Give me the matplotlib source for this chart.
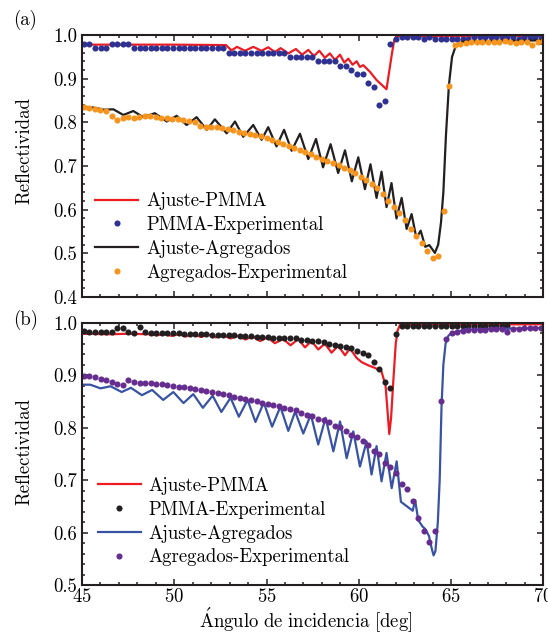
import numpy as np
import matplotlib
matplotlib.use("Agg")
import matplotlib.pyplot as plt
from matplotlib.ticker import MultipleLocator, FormatStrFormatter

FS = 13.5
plt.rcParams.update({
    "font.family": "serif",
    "font.serif": ["cmr10"],
    "mathtext.fontset": "cm",
    "axes.formatter.use_mathtext": True,
    "font.size": FS,
})

# ---------------- measurement grids (incidence angle, deg) ----------------
ANGLE_START = 45.1
ANGLE_STEP = 0.302        # scan step of the PMMA runs and of panel (b)
ANGLE_STEP_AGG_A = 0.300  # scan step of the aggregate run in panel (a)
N_POINTS = 83
N_POINTS_AGG_A = 84

# ---------------- panel (a) ----------------
pmma_exp_a = [0.980, 0.980, 0.970, 0.970, 0.970, 0.980, 0.980, 0.980, 0.980, 0.970,
              0.970, 0.970, 0.970, 0.970, 0.970, 0.970, 0.970, 0.970, 0.970, 0.970,
              0.970, 0.970, 0.970, 0.970, 0.970, 0.970, 0.960, 0.960, 0.960, 0.960,
              0.960, 0.960, 0.960, 0.960, 0.960, 0.960, 0.960, 0.950, 0.950, 0.950,
              0.950, 0.950, 0.940, 0.940, 0.940, 0.940, 0.930, 0.930, 0.920, 0.910,
              0.910, 0.890, 0.880, 0.840, 0.850, 0.980, 0.990, 0.996, 0.996, 0.996,
              0.996, 0.990, 0.996, 0.990, 0.990, 0.990, 0.990, 0.990, 0.990, 0.990,
              0.996, 0.996, 0.996, 0.996, 0.996, 0.996, 0.996, 0.996, 0.990, 0.996,
              0.996, 0.996, 0.996]

agg_exp_a = [0.835, 0.833, 0.831, 0.829, 0.827, 0.814, 0.805, 0.811, 0.812, 0.811,
             0.813, 0.815, 0.815, 0.813, 0.811, 0.809, 0.808, 0.807, 0.805, 0.803,
             0.800, 0.791, 0.789, 0.790, 0.789, 0.786, 0.784, 0.783, 0.779, 0.776,
             0.773, 0.771, 0.768, 0.765, 0.760, 0.756, 0.751, 0.746, 0.741, 0.737,
             0.732, 0.727, 0.721, 0.717, 0.712, 0.706, 0.702, 0.696, 0.690, 0.684,
             0.675, 0.667, 0.660, 0.649, 0.636, 0.621, 0.606, 0.592, 0.576, 0.556,
             0.539, 0.523, 0.506, 0.490, 0.495, 0.597, 0.883, 0.977, 0.980, 0.982,
             0.983, 0.984, 0.985, 0.985, 0.985, 0.985, 0.986, 0.985, 0.981, 0.984,
             0.985, 0.977, 0.985, 0.987]

fit_pmma_a_x = [45.0, 50.0, 52.8, 53.1, 53.4, 53.83, 54.28, 54.73, 55.09, 55.45,
                55.76, 56.18, 56.59, 56.93, 57.26, 57.57, 57.86, 58.16, 58.43, 58.7,
                58.98, 59.21, 59.43, 59.66, 59.88, 60.06, 60.24, 60.6, 60.96, 61.24,
                61.5, 61.78, 61.92, 62.05, 70.0]
fit_pmma_a_y = [0.978, 0.978, 0.977, 0.965, 0.973, 0.964, 0.973, 0.964, 0.972, 0.961,
                0.970, 0.958, 0.968, 0.955, 0.966, 0.952, 0.964, 0.948, 0.958, 0.943,
                0.955, 0.937, 0.946, 0.932, 0.940, 0.927, 0.931, 0.916, 0.897, 0.886,
                0.876, 0.954, 0.989, 0.997, 0.998]

fit_agg_a_x = [45.0, 45.6, 46.2, 46.7, 47.24, 47.78, 48.32, 48.95, 49.59, 50.13,
               50.67, 51.21, 51.76, 52.2, 52.84, 53.29, 53.74, 54.28, 54.73, 55.09,
               55.54, 55.95, 56.36, 56.81, 57.26, 57.68, 58.06, 58.47, 58.88, 59.25,
               59.62, 59.97, 60.33, 60.63, 60.96, 61.23, 61.5, 61.77, 62.04, 62.32,
               62.59, 62.86, 63.12, 63.35, 63.6, 63.82, 64.12, 64.3, 64.45, 64.58,
               64.72, 64.88, 65.05, 65.25, 65.6, 70.0]
fit_agg_a_y = [0.836, 0.834, 0.829, 0.830, 0.817, 0.826, 0.812, 0.821, 0.802, 0.815,
               0.794, 0.812, 0.783, 0.807, 0.775, 0.802, 0.767, 0.794, 0.760, 0.789,
               0.745, 0.783, 0.735, 0.774, 0.716, 0.762, 0.697, 0.750, 0.684, 0.736,
               0.665, 0.720, 0.647, 0.704, 0.627, 0.687, 0.606, 0.661, 0.580, 0.627,
               0.556, 0.590, 0.535, 0.552, 0.515, 0.519, 0.501, 0.520, 0.570, 0.640,
               0.770, 0.885, 0.950, 0.975, 0.985, 0.988]

# ---------------- panel (b) ----------------
nan = np.nan
pmma_exp_b = [0.984, 0.983, 0.983, 0.983, 0.982, 0.982, 0.990, 0.990, 0.982, 0.981,
              0.991, 0.982, 0.981, 0.981, 0.981, 0.980, 0.980, 0.980, 0.979, 0.979,
              0.978, 0.978, 0.978, 0.977, 0.977, 0.977, 0.976, 0.976, 0.975, 0.975,
              0.974, 0.973, 0.972, 0.972, 0.971, 0.971, 0.971, 0.970, 0.970, 0.968,
              0.968, 0.966, 0.965, 0.963, 0.960, 0.958, 0.955, 0.953, 0.951, 0.947,
              0.942, 0.939, 0.926, 0.912, 0.888, 0.876, 0.978, 0.993, 0.994, 0.994,
              0.994, 0.994, 0.994, 0.994, 0.994, 0.994, 0.994, 0.994, 0.994, 0.994,
              0.994, 0.994, 0.994, 0.994, 0.994, 0.994, 0.994, nan, nan, nan,
              nan, nan, nan]

agg_exp_b = [0.898, 0.898, 0.896, 0.893, 0.891, 0.887, 0.883, 0.882, 0.890, 0.887,
             0.886, 0.885, 0.885, 0.884, 0.883, 0.882, 0.880, 0.878, 0.877, 0.875,
             0.873, 0.872, 0.870, 0.868, 0.866, 0.864, 0.862, 0.859, 0.857, 0.855,
             0.852, 0.850, 0.848, 0.845, 0.843, 0.841, 0.838, 0.836, 0.834, 0.828,
             0.825, 0.822, 0.817, 0.815, 0.811, 0.803, 0.801, 0.794, 0.787, 0.782,
             0.774, 0.768, 0.756, 0.750, 0.733, 0.726, 0.714, 0.693, 0.684, 0.660,
             0.628, 0.604, 0.582, 0.604, 0.851, 0.969, 0.981, 0.983, 0.985, 0.986,
             0.987, 0.987, 0.987, 0.988, 0.988, 0.988, 0.983, 0.988, 0.988, 0.989,
             0.989, 0.989, 0.989]

fit_pmma_b_x = [45.0, 46.5, 47.5, 48.6, 49.05, 49.45, 49.85, 50.25, 50.65, 51.05,
                51.45, 51.85, 52.25, 52.65, 53.05, 53.45, 53.85, 54.25, 54.65, 55.05,
                55.45, 55.9, 56.3, 56.72, 57.08, 57.44, 57.8, 58.16, 58.52, 58.89,
                59.25, 59.52, 59.88, 60.15, 60.5, 60.87, 61.23, 61.45, 61.58, 61.65,
                61.75, 61.87, 62.0, 62.1, 62.23, 70.0]
fit_pmma_b_y = [0.979, 0.978, 0.979, 0.978, 0.976, 0.978, 0.975, 0.978, 0.974, 0.977,
                0.973, 0.977, 0.972, 0.976, 0.970, 0.975, 0.968, 0.974, 0.965, 0.972,
                0.961, 0.969, 0.957, 0.969, 0.953, 0.965, 0.949, 0.960, 0.943, 0.956,
                0.938, 0.951, 0.933, 0.925, 0.919, 0.914, 0.907, 0.880, 0.820, 0.788,
                0.820, 0.890, 0.960, 0.985, 0.996, 0.997]

fit_agg_b_x = [45.0, 45.45, 46.0, 46.55, 47.15, 47.65, 48.25, 48.8, 49.4, 49.95,
               50.5, 51.03, 51.55, 52.08, 52.55, 53.05, 53.5, 53.97, 54.4, 54.85,
               55.3, 55.75, 56.18, 56.55, 56.99, 57.4, 57.8, 58.2, 58.62, 58.98,
               59.34, 59.7, 60.06, 60.42, 60.69, 60.96, 61.23, 61.5, 61.78, 62.05,
               62.28, 62.92, 63.05, 63.22, 63.45, 63.6, 63.8, 63.95, 64.05, 64.15,
               64.28, 64.38, 64.48, 64.58, 64.7, 64.85, 65.0, 65.75, 70.0]
fit_agg_b_y = [0.882, 0.882, 0.875, 0.879, 0.868, 0.876, 0.862, 0.872, 0.853, 0.868,
               0.847, 0.864, 0.838, 0.861, 0.830, 0.857, 0.821, 0.853, 0.811, 0.848,
               0.802, 0.840, 0.794, 0.831, 0.789, 0.825, 0.768, 0.819, 0.755, 0.812,
               0.742, 0.793, 0.726, 0.774, 0.711, 0.765, 0.698, 0.752, 0.685, 0.736,
               0.659, 0.642, 0.662, 0.624, 0.612, 0.607, 0.594, 0.570, 0.557, 0.565,
               0.620, 0.700, 0.840, 0.920, 0.960, 0.975, 0.980, 0.987, 0.990]

legend_labels = ["Ajuste-PMMA", "PMMA-Experimental",
                 "Ajuste-Agregados", "Agregados-Experimental"]

RED = "#ED1C24"
NAVY = "#2E3192"
ORANGE = "#F7941D"
BLACK = "#231F20"
BLUE = "#3953A4"
PURPLE = "#662D91"

angles = ANGLE_START + ANGLE_STEP * np.arange(N_POINTS)
angles_agg_a = ANGLE_START + ANGLE_STEP_AGG_A * np.arange(N_POINTS_AGG_A)

fig = plt.figure(figsize=(5.48, 6.34), dpi=100)
ax_a = fig.add_axes([0.1496, 0.5315, 0.842, 0.4132])
ax_b = fig.add_axes([0.1496, 0.0768, 0.842, 0.4142])

LW = 1.6
MS = 4.4


def draw_panel(ax, fit1, exp1, fit2, exp2, colors, exp_x2):
    c_fit1, c_exp1, c_fit2, c_exp2 = colors
    ax.plot(fit1[0], fit1[1], color=c_fit1, lw=LW, solid_joinstyle="round",
            label=legend_labels[0])
    ax.plot(angles, exp1, "o", color=c_exp1, ms=MS, mew=0,
            label=legend_labels[1])
    ax.plot(fit2[0], fit2[1], color=c_fit2, lw=LW, solid_joinstyle="round",
            label=legend_labels[2])
    ax.plot(exp_x2, exp2, "o", color=c_exp2, ms=MS, mew=0,
            label=legend_labels[3])


draw_panel(ax_a, (fit_pmma_a_x, fit_pmma_a_y), pmma_exp_a,
           (fit_agg_a_x, fit_agg_a_y), agg_exp_a,
           (RED, NAVY, BLACK, ORANGE), angles_agg_a)
draw_panel(ax_b, (fit_pmma_b_x, fit_pmma_b_y), pmma_exp_b,
           (fit_agg_b_x, fit_agg_b_y), agg_exp_b,
           (RED, BLACK, BLUE, PURPLE), angles)

for ax, (ylo, yhi) in ((ax_a, (0.4, 1.0)), (ax_b, (0.5, 1.0))):
    ax.set_xlim(45, 70)
    ax.set_ylim(ylo, yhi)
    ax.xaxis.set_major_locator(MultipleLocator(5))
    ax.xaxis.set_minor_locator(MultipleLocator(1))
    ax.yaxis.set_major_locator(MultipleLocator(0.1))
    ax.yaxis.set_minor_locator(MultipleLocator(0.02))
    ax.yaxis.set_major_formatter(FormatStrFormatter("%.1f"))
    ax.tick_params(which="both", direction="in", top=True, right=True,
                   width=1.1, color=BLACK, labelsize=FS)
    ax.tick_params(which="major", length=4.5)
    ax.tick_params(which="minor", length=2.4)
    ax.tick_params(axis="y", pad=3.5)
    ax.tick_params(axis="x", pad=2.0)
    for sp in ax.spines.values():
        sp.set_linewidth(1.5)
        sp.set_color(BLACK)
    ax.set_ylabel("Reflectividad", fontsize=FS)

ax_a.tick_params(axis="x", labelbottom=False)
ax_a.yaxis.set_label_coords(-0.106, 0.559)
ax_b.yaxis.set_label_coords(-0.106, 0.508)
ax_b.set_xlabel(r"$\mathrm{\acute{A}ngulo\ de\ incidencia\ [deg]}$", fontsize=FS)
ax_b.xaxis.set_label_coords(0.485, -0.075)

for ax, anchor in ((ax_a, (0.029, 0.400)), (ax_b, (0.034, 0.4126))):
    ax.legend(loc="upper left", bbox_to_anchor=anchor, frameon=False,
              borderpad=0.0, borderaxespad=0.0, handlelength=2.3,
              handletextpad=0.4, labelspacing=0.31, fontsize=FS,
              numpoints=1)

fig.text(13 / 548, 1 - 20 / 634, "(a)", fontsize=FS, ha="left", va="center")
fig.text(13 / 548, 1 - 320 / 634, "(b)", fontsize=FS, ha="left", va="center")

fig.savefig("out.png", dpi=100)
